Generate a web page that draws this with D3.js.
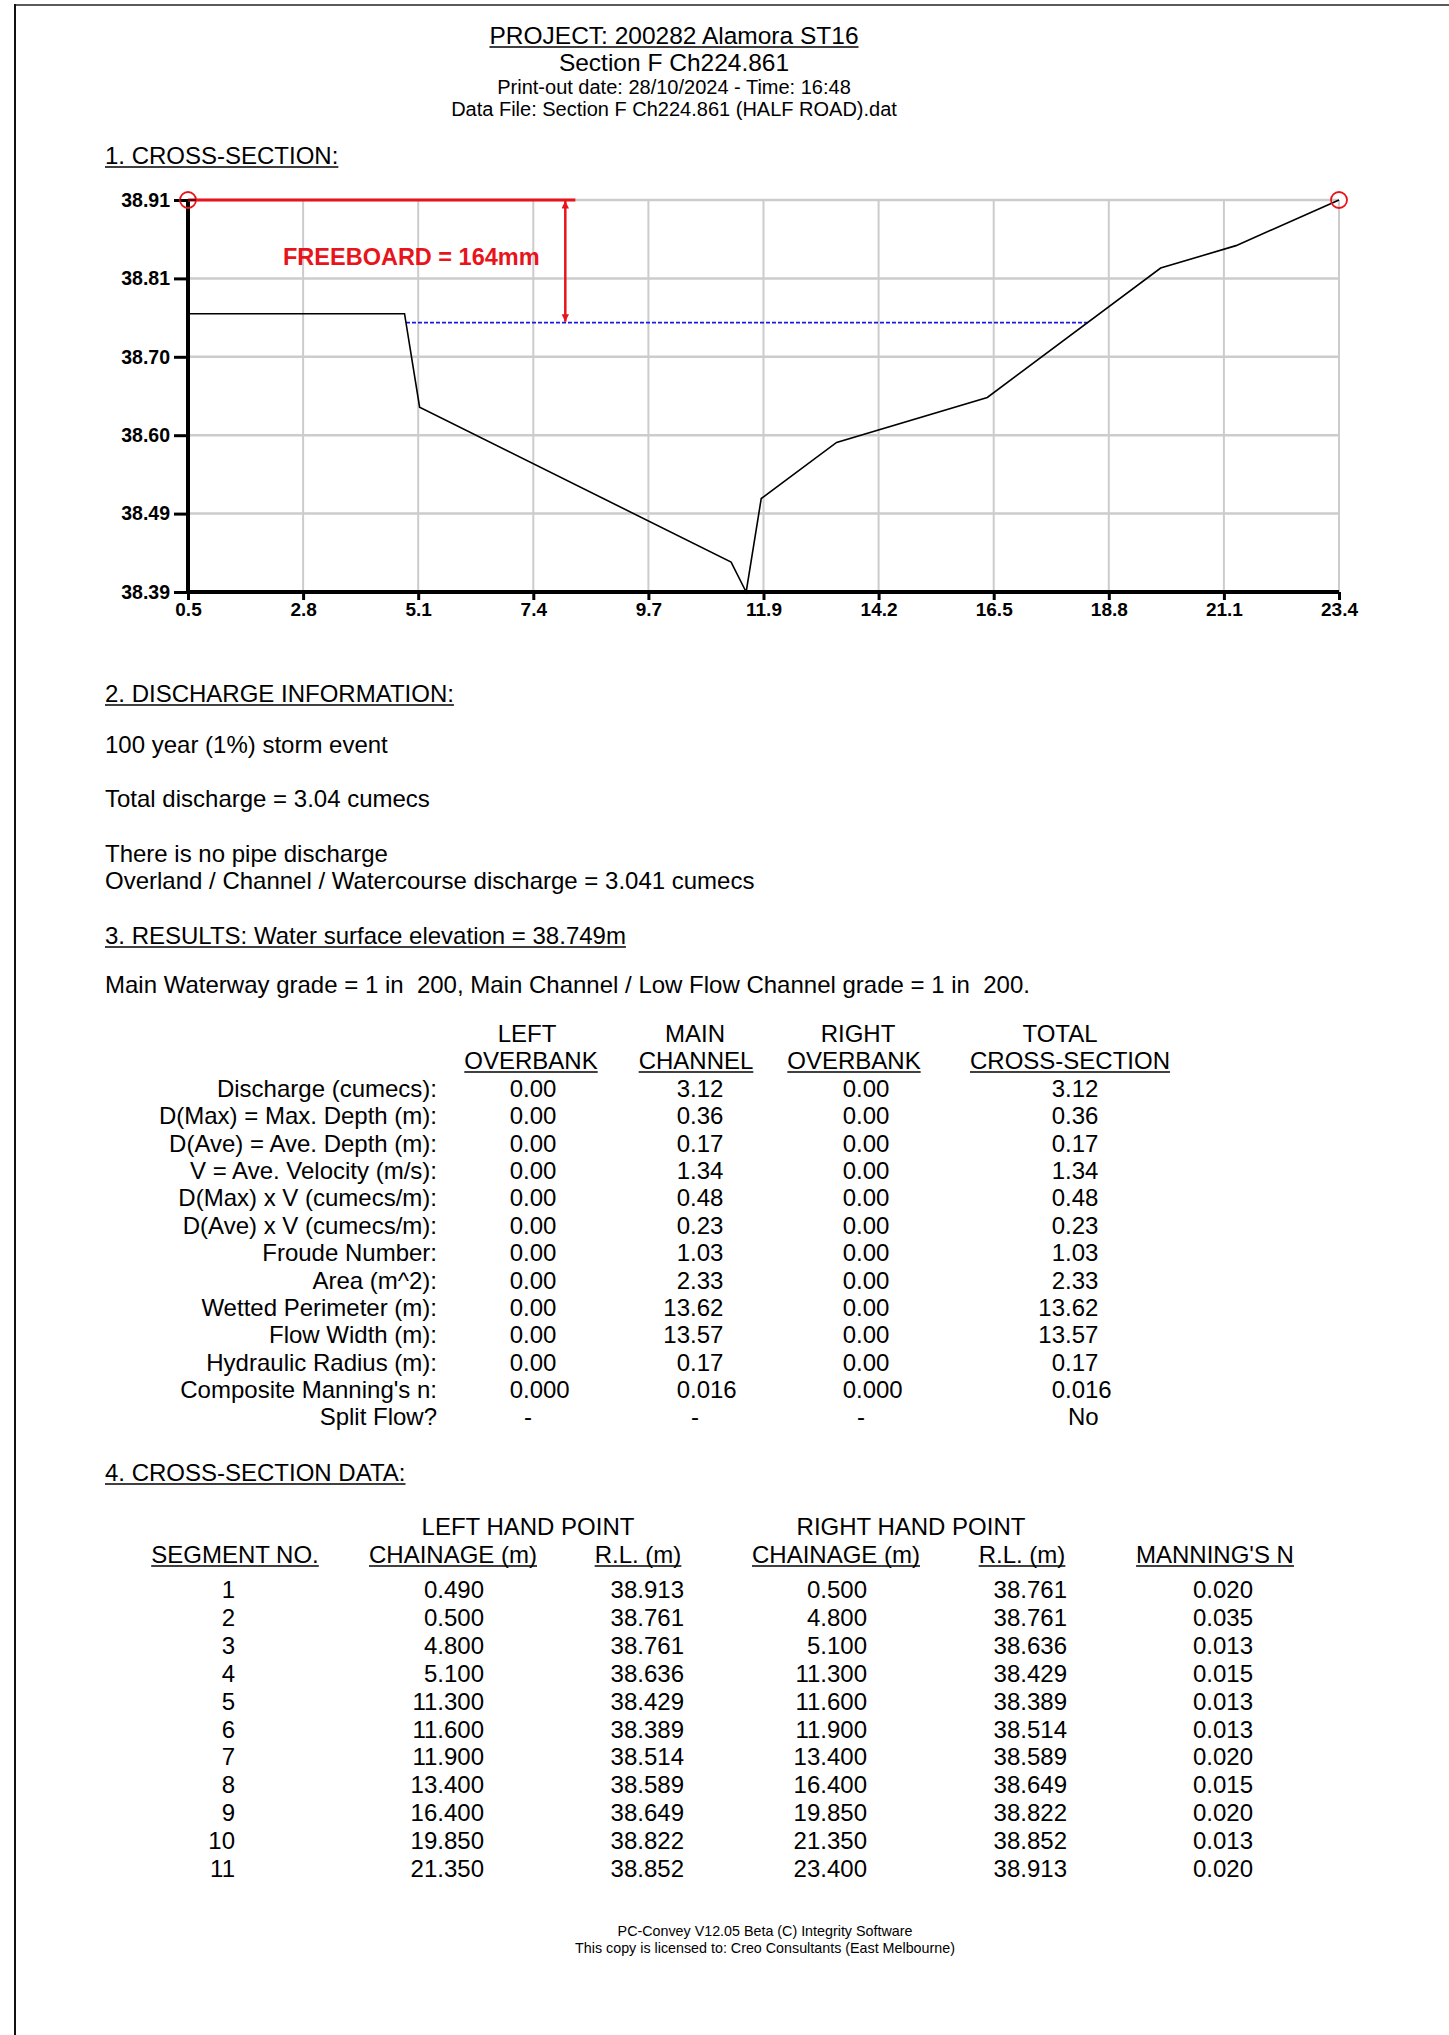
<!DOCTYPE html>
<html><head><meta charset="utf-8">
<script src="https://cdn.jsdelivr.net/npm/d3@7"></script>
<style>
body{margin:0;background:#fff}
svg{display:block}
text{font-family:"Liberation Sans",Arial,Helvetica,sans-serif;white-space:pre;fill:#000}
</style>
</head><body><svg id="c" width="1449" height="2035"></svg>
<script>
// ---------- DATA ----------
const titleLines = ["PROJECT: 200282 Alamora ST16","Section F Ch224.861","Print-out date: 28/10/2024 - Time: 16:48","Data File: Section F Ch224.861 (HALF ROAD).dat"];
const chainage = [0.49,0.5,4.8,5.1,11.3,11.6,11.9,13.4,16.4,19.85,21.35,23.4];
const level    = [38.913,38.761,38.761,38.636,38.429,38.389,38.514,38.589,38.649,38.822,38.852,38.913];
const waterLevel = 38.749;
const waterExtent = [4.829, 18.394];
const freeboardLabel = "FREEBOARD = 164mm";
const freeboardArrowX = 8.0;
const freeboardLineEnd = 8.2;
const xTickValues = [0.49,2.781,5.072,7.363,9.654,11.945,14.236,16.527,18.818,21.109,23.4];
const xTickLabels = ["0.5","2.8","5.1","7.4","9.7","11.9","14.2","16.5","18.8","21.1","23.4"];
const yTickValues = [38.389,38.4938,38.5986,38.7034,38.8082,38.913];
const yTickLabels = ["38.39","38.49","38.60","38.70","38.81","38.91"];

const dischargeLines = ["100 year (1%) storm event","Total discharge = 3.04 cumecs","There is no pipe discharge","Overland / Channel / Watercourse discharge = 3.041 cumecs"];
const resultsTitle = "3. RESULTS: Water surface elevation = 38.749m";
const gradeLine = "Main Waterway grade = 1 in  200, Main Channel / Low Flow Channel grade = 1 in  200.";

const resultHeads1 = ["LEFT","MAIN","RIGHT","TOTAL"];
const resultHeads2 = ["OVERBANK","CHANNEL","OVERBANK","CROSS-SECTION"];
const resultLabels = ["Discharge (cumecs):","D(Max) = Max. Depth (m):","D(Ave) = Ave. Depth (m):","V = Ave. Velocity (m/s):","D(Max) x V (cumecs/m):","D(Ave) x V (cumecs/m):","Froude Number:","Area (m^2):","Wetted Perimeter (m):","Flow Width (m):","Hydraulic Radius (m):","Composite Manning's n:"];
const leftOverbank  = ["0.00","0.00","0.00","0.00","0.00","0.00","0.00","0.00","0.00","0.00","0.00","0.000"];
const mainChannel   = ["3.12","0.36","0.17","1.34","0.48","0.23","1.03","2.33","13.62","13.57","0.17","0.016"];
const rightOverbank = ["0.00","0.00","0.00","0.00","0.00","0.00","0.00","0.00","0.00","0.00","0.00","0.000"];
const totalSection  = ["3.12","0.36","0.17","1.34","0.48","0.23","1.03","2.33","13.62","13.57","0.17","0.016"];
const splitFlow = ["-","-","-","No"];

const segHeadTop = ["LEFT HAND POINT","RIGHT HAND POINT"];
const segHeads = ["SEGMENT NO.","CHAINAGE (m)","R.L. (m)","CHAINAGE (m)","R.L. (m)","MANNING'S N"];
const segNo   = ["1","2","3","4","5","6","7","8","9","10","11"];
const lhChain = ["0.490","0.500","4.800","5.100","11.300","11.600","11.900","13.400","16.400","19.850","21.350"];
const lhRL    = ["38.913","38.761","38.761","38.636","38.429","38.389","38.514","38.589","38.649","38.822","38.852"];
const rhChain = ["0.500","4.800","5.100","11.300","11.600","11.900","13.400","16.400","19.850","21.350","23.400"];
const rhRL    = ["38.761","38.761","38.636","38.429","38.389","38.514","38.589","38.649","38.822","38.852","38.913"];
const manning = ["0.020","0.035","0.013","0.015","0.013","0.013","0.020","0.015","0.020","0.013","0.020"];
const footer = ["PC-Convey V12.05 Beta (C) Integrity Software","This copy is licensed to: Creo Consultants (East Melbourne)"];

// ---------- DRAW ----------
const svg = d3.select("#c");
const FS = 24;

// page border
svg.append("line").attr("x1",15).attr("x2",1449).attr("y1",5).attr("y2",5).attr("stroke","#5a5a5a").attr("stroke-width",2);
svg.append("line").attr("x1",15).attr("x2",15).attr("y1",4).attr("y2",2035).attr("stroke","#111").attr("stroke-width",2);

function txt(s, x, y, opts={}) {
  const t = svg.append("text").attr("x",x).attr("y",y).text(s)
    .style("font-size",(opts.size||FS)+"px")
    .attr("text-anchor",opts.anchor||"start");
  if (opts.bold) t.style("font-weight","bold");
  if (opts.fill) t.style("fill",opts.fill);
  if (opts.underline) {
    const w = t.node().getComputedTextLength();
    let x0 = x;
    if (opts.anchor==="middle") x0 = x - w/2;
    else if (opts.anchor==="end") x0 = x - w;
    svg.append("line").attr("x1",x0).attr("x2",x0+w).attr("y1",y+3).attr("y2",y+3)
      .attr("stroke","#000").attr("stroke-width",1.6);
  }
  return t;
}

// titles
const cx = 674;
txt(titleLines[0], cx, 44, {anchor:"middle", size:24.5, underline:true});
txt(titleLines[1], cx, 71, {anchor:"middle", size:24.5});
txt(titleLines[2], cx, 94, {anchor:"middle", size:20});
txt(titleLines[3], cx, 116, {anchor:"middle", size:20});

txt("1. CROSS-SECTION:", 105, 164, {underline:true});

// chart
const x = d3.scaleLinear().domain([0.49, 23.4]).range([188, 1339]);
const y = d3.scaleLinear().domain([38.389, 38.913]).range([592, 200]);

const grid = svg.append("g");
grid.selectAll(".vg").data(xTickValues.slice(1)).enter().append("line")
  .attr("x1",d=>x(d)).attr("x2",d=>x(d)).attr("y1",y(38.913)).attr("y2",y(38.389))
  .attr("stroke","#cccccc").attr("stroke-width",2);
grid.selectAll(".hg").data(yTickValues.slice(1)).enter().append("line")
  .attr("x1",x(0.49)).attr("x2",x(23.4)).attr("y1",d=>y(d)).attr("y2",d=>y(d))
  .attr("stroke","#cccccc").attr("stroke-width",2.5);

// axes
const yAxis = d3.axisLeft(y).tickValues(yTickValues).tickFormat((d,i)=>yTickLabels[i]).tickSize(14).tickPadding(4);
const gy = svg.append("g").attr("transform",`translate(${x(0.49)},0)`).call(yAxis);
gy.select(".domain").attr("stroke","#000").attr("stroke-width",4).attr("d",`M0,${y(38.913)}V${y(38.389)+2}`);
gy.selectAll(".tick line").attr("stroke","#000").attr("stroke-width",3);
gy.selectAll(".tick text").style("font-size","19.5px").style("font-weight","bold").style("font-family","'Liberation Sans',Arial,sans-serif").attr("fill","#000");

const xAxis = d3.axisBottom(x).tickValues(xTickValues).tickFormat((d,i)=>xTickLabels[i]).tickSize(8).tickPadding(3);
const gx = svg.append("g").attr("transform",`translate(0,${y(38.389)})`).call(xAxis);
gx.select(".domain").attr("stroke","#000").attr("stroke-width",4).attr("d",`M${x(0.49)-2},0H${x(23.4)}`);
gx.selectAll(".tick line").attr("stroke","#000").attr("stroke-width",3);
gx.selectAll(".tick text").style("font-size","19px").style("font-weight","bold").style("font-family","'Liberation Sans',Arial,sans-serif").attr("fill","#000");

// water surface
svg.append("line").attr("x1",x(waterExtent[0])).attr("x2",x(waterExtent[1]))
  .attr("y1",y(waterLevel)).attr("y2",y(waterLevel))
  .attr("stroke","#1a1ae6").attr("stroke-width",1.8).attr("stroke-dasharray","4,2");

// ground profile
const pts = chainage.map((c,i)=>[c, level[i]]);
svg.append("path").datum(pts)
  .attr("d", d3.line().x(d=>x(d[0])).y(d=>y(d[1])))
  .attr("fill","none").attr("stroke","#000").attr("stroke-width",1.6);

// freeboard
const red = "#e8141c";
svg.append("line").attr("x1",x(chainage[0])).attr("x2",x(freeboardLineEnd))
  .attr("y1",y(level[0])).attr("y2",y(level[0])).attr("stroke",red).attr("stroke-width",3);
const defs = svg.append("defs");
defs.append("marker").attr("id","ah").attr("viewBox","0 0 10 10").attr("refX",10).attr("refY",5)
  .attr("markerWidth",3).attr("markerHeight",3).attr("orient","auto-start-reverse")
  .append("path").attr("d","M0,0L10,5L0,10z").attr("fill",red);
svg.append("line").attr("x1",x(freeboardArrowX)).attr("x2",x(freeboardArrowX))
  .attr("y1",y(level[0])+1).attr("y2",y(waterLevel)-1)
  .attr("stroke",red).attr("stroke-width",2.5)
  .attr("marker-start","url(#ah)").attr("marker-end","url(#ah)");
txt(freeboardLabel, 283, 265, {bold:true, fill:red, size:23.5});

// end circles
[[chainage[0],level[0]],[chainage[chainage.length-1],level[level.length-1]]].forEach(p=>{
  svg.append("circle").attr("cx",x(p[0])).attr("cy",y(p[1])).attr("r",8)
    .attr("fill","none").attr("stroke",red).attr("stroke-width",1.8);
});
svg.append("line").attr("x1",x(chainage[0])-8).attr("x2",x(chainage[0])+8)
  .attr("y1",y(level[0])).attr("y2",y(level[0])).attr("stroke","#000").attr("stroke-width",1.2);

// section 2
txt("2. DISCHARGE INFORMATION:", 105, 702, {underline:true});
const dy = [753, 807, 862, 889];
dischargeLines.forEach((s,i)=>txt(s,105,dy[i]));
txt(resultsTitle, 105, 944, {underline:true});
txt(gradeLine, 105, 993);

// results table
const colC1 = [527, 695, 858, 1060];
const colC2 = [531, 696, 854, 1070];
const decX = [523, 690, 856, 1065];
resultHeads1.forEach((s,i)=>txt(s,colC1[i],1042,{anchor:"middle"}));
resultHeads2.forEach((s,i)=>txt(s,colC2[i],1069,{anchor:"middle",underline:true}));
const rowY0 = 1097, rowDY = 27.37;
const cols = [leftOverbank, mainChannel, rightOverbank, totalSection];
resultLabels.concat(["Split Flow?"]).forEach((s,i)=>txt(s, 437, rowY0+i*rowDY, {anchor:"end"}));
cols.forEach((arr,ci)=>{
  arr.forEach((v,ri)=>{
    const ip = v.split(".")[0];
    const t = txt(v, 0, rowY0+ri*rowDY);
    const tmp = svg.append("text").text(ip).style("font-size",FS+"px");
    const w = tmp.node().getComputedTextLength(); tmp.remove();
    t.attr("x", decX[ci]-w);
  });
});
splitFlow.forEach((s,ci)=>{
  const yy = rowY0+12*rowDY;
  if (s==="-") txt(s, decX[ci]+5, yy, {anchor:"middle"});
  else txt(s, decX[ci]+3, yy);
});

// section 4
txt("4. CROSS-SECTION DATA:", 105, 1481, {underline:true});
txt(segHeadTop[0], 528, 1535, {anchor:"middle"});
txt(segHeadTop[1], 911, 1535, {anchor:"middle"});
const headC = [235, 453, 638, 836, 1022, 1215];
segHeads.forEach((s,i)=>txt(s, headC[i], 1563, {anchor:"middle", underline:true}));
const segCols = [segNo, lhChain, lhRL, rhChain, rhRL, manning];
const segRight = [235, 484, 684, 867, 1067, 1253];
segCols.forEach((arr,ci)=>arr.forEach((v,ri)=>txt(v, segRight[ci], 1598+ri*27.9, {anchor:"end"})));

// footer
txt(footer[0], 765, 1936, {anchor:"middle", size:14.3});
txt(footer[1], 765, 1953, {anchor:"middle", size:14.3});
</script>
</body></html>
